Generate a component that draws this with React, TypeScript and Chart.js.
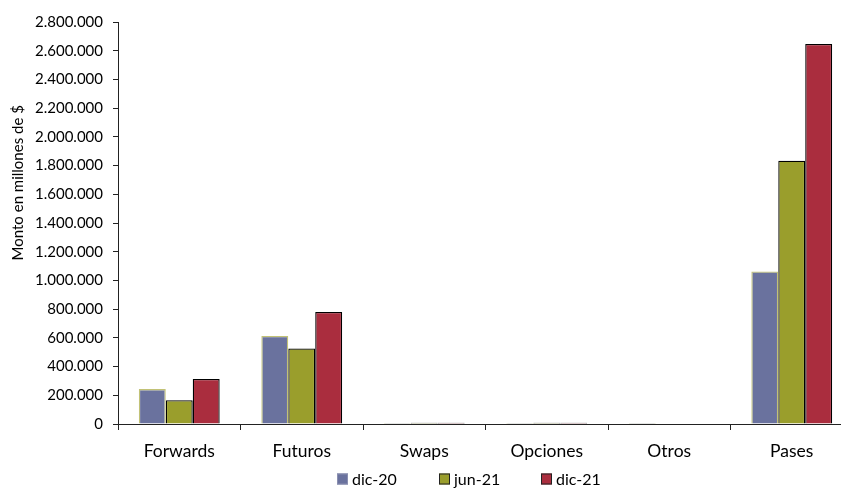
import React, { useEffect, useRef } from "react";
import { Chart, registerables } from "chart.js";

Chart.register(...registerables);

const categories = ["Forwards", "Futuros", "Swaps", "Opciones", "Otros", "Pases"];
const seriesLabels = ["dic-20", "jun-21", "dic-21"];
const dic20 = [243000, 613000, 7000, 7000, 7000, 1063000];
const jun21 = [165000, 526000, 8000, 8000, 0, 1834000];
const dic21 = [313000, 780000, 8000, 8000, 0, 2647000];
const yTitle = "Monto en millones de $";

const fills = ["#6A729E", "#9A9E2C", "#AA2D3E"];
const borders = ["#C2C276", "#000000", "#000000"];
const FONT = "Lato, 'Open Sans', sans-serif";

const fmt = (v: number) => String(v).replace(/\B(?=(\d{3})+(?!\d))/g, ".");

const extrasPlugin = {
  id: "extras",
  afterDraw(chart: any) {
    const ctx = chart.ctx;
    const area = chart.chartArea;
    ctx.save();
    ctx.fillStyle = "#000";
    ctx.font = `15px ${FONT}`;
    ctx.textAlign = "center";
    ctx.textBaseline = "middle";
    ctx.translate(18, area.top + (area.bottom - area.top) * 0.4);
    ctx.rotate(-Math.PI / 2);
    ctx.fillText(yTitle, 0, 0);
    ctx.restore();

    ctx.save();
    ctx.font = `16px ${FONT}`;
    ctx.textAlign = "left";
    ctx.textBaseline = "middle";
    const cy = 479;
    chart.data.datasets.forEach((ds: any, i: number) => {
      const x = 337 + i * 102;
      ctx.fillStyle = ds.backgroundColor;
      ctx.fillRect(x, cy - 5.5, 11, 11);
      ctx.strokeStyle = i === 0 ? "#8a8fb0" : "#222";
      ctx.lineWidth = 1;
      ctx.strokeRect(x + 0.5, cy - 5, 10, 10);
      ctx.fillStyle = "#000";
      ctx.fillText(ds.label, x + 15, cy + 1);
    });
    ctx.restore();
  },
};

export default function App() {
  const ref = useRef<HTMLCanvasElement>(null);
  useEffect(() => {
    if (!ref.current) return;
    const series = [dic20, jun21, dic21];
    const chart = new Chart(ref.current, {
      type: "bar",
      data: {
        labels: categories,
        datasets: series.map((d, i) => ({
          label: seriesLabels[i],
          data: d,
          backgroundColor: fills[i],
          borderColor: borders[i],
          borderWidth: 1.3,
          categoryPercentage: 0.66,
          barPercentage: 1,
        })),
      },
      options: {
        responsive: false,
        animation: false,
        devicePixelRatio: 1,
        layout: { padding: { top: 22, right: 17, left: 0, bottom: 0 } },
        plugins: { legend: { display: false }, tooltip: { enabled: false } },
        scales: {
          x: {
            grid: { drawOnChartArea: false, drawTicks: true, tickLength: 6, color: "#222", offset: true },
            border: { color: "#222" },
            ticks: { font: { family: FONT, size: 17.5 }, color: "#000", padding: 11 },
            afterFit: (s: any) => {
              s.height = 64;
            },
          },
          y: {
            min: 0,
            max: 2800000,
            grid: { drawOnChartArea: false, drawTicks: true, tickLength: 5, color: "#222" },
            border: { color: "#222" },
            ticks: {
              stepSize: 200000,
              font: { family: FONT, size: 15 },
              color: "#000",
              padding: 10,
              callback: (v: any) => fmt(Number(v)),
            },
            afterFit: (s: any) => {
              s.width = 118;
            },
          },
        },
      },
      plugins: [extrasPlugin],
    });
    return () => chart.destroy();
  }, []);
  return (
    <div style={{ position: "absolute", left: 0, top: 0, width: 841, height: 488, overflow: "hidden", background: "#fff" }}>
      <canvas ref={ref} width={870} height={488} style={{ display: "block" }} />
    </div>
  );
}
